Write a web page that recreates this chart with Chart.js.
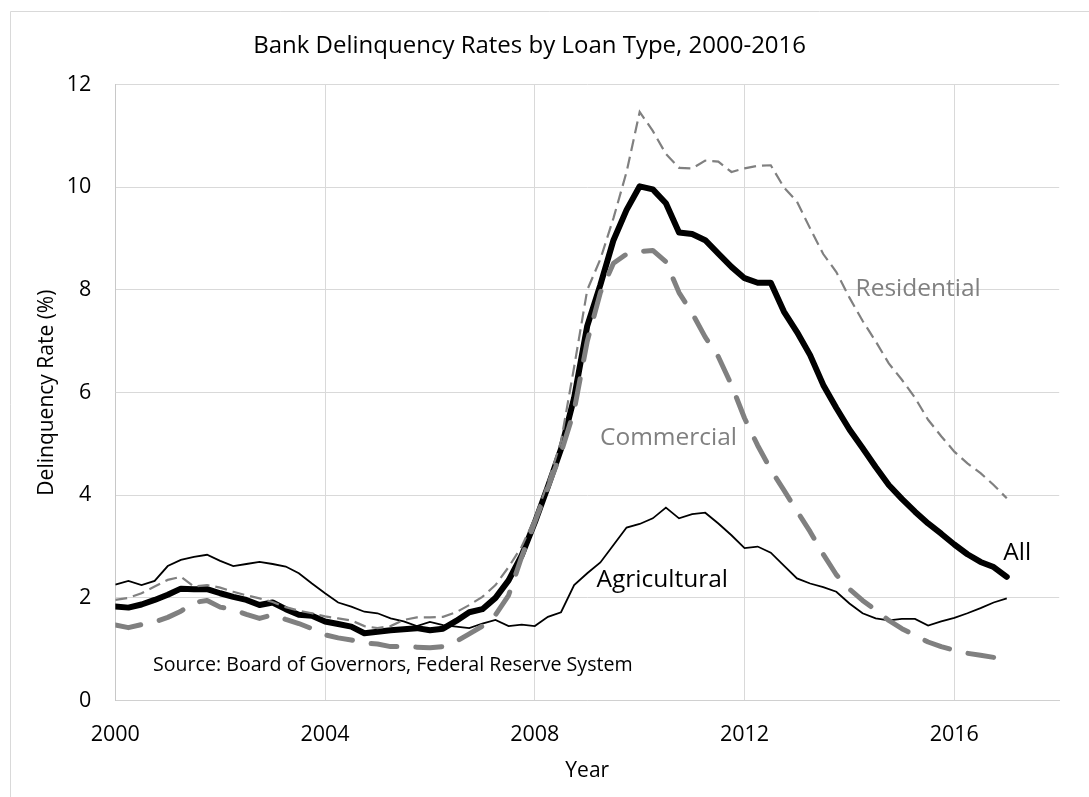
<!DOCTYPE html>
<html><head><meta charset="utf-8">
<script src="https://cdn.jsdelivr.net/npm/chart.js@4.4.1/dist/chart.umd.min.js"></script>
<style>html,body{margin:0;padding:0;background:#fff;}#wrap{width:1089px;height:797px;}</style>
</head><body><div id="wrap"><canvas id="c" width="1089" height="797"></canvas></div>
<script>
// Quarterly observations, 2000Q1 ... 2017Q1
const firstYear = 2000;
const quarterLen = 0.25;
const allLoans = [1.83,1.81,1.87,1.96,2.06,2.18,2.17,2.17,2.09,2.02,1.96,1.86,1.91,1.78,1.67,1.65,1.54,1.49,1.44,1.31,1.34,1.37,1.39,1.41,1.37,1.40,1.55,1.72,1.78,2.00,2.34,2.83,3.47,4.17,4.90,5.90,7.30,8.10,8.97,9.56,10.02,9.96,9.69,9.12,9.09,8.97,8.71,8.45,8.23,8.14,8.14,7.58,7.18,6.73,6.15,5.70,5.28,4.92,4.55,4.20,3.93,3.68,3.45,3.25,3.04,2.85,2.70,2.60,2.41];
const residential = [1.96,2.00,2.09,2.22,2.35,2.41,2.22,2.25,2.20,2.12,2.05,1.99,1.92,1.82,1.75,1.70,1.64,1.60,1.56,1.45,1.41,1.45,1.57,1.62,1.62,1.63,1.72,1.86,2.02,2.25,2.60,3.00,3.55,4.25,5.05,6.50,8.00,8.60,9.40,10.30,11.47,11.10,10.65,10.38,10.37,10.52,10.50,10.30,10.37,10.42,10.43,10.00,9.72,9.20,8.70,8.35,7.85,7.40,7.00,6.57,6.25,5.90,5.47,5.15,4.85,4.62,4.43,4.20,3.94];
const commercial = [1.47,1.42,1.48,1.53,1.62,1.74,1.91,1.95,1.82,1.77,1.68,1.60,1.67,1.58,1.50,1.40,1.28,1.22,1.18,1.12,1.10,1.05,1.05,1.04,1.03,1.05,1.15,1.30,1.45,1.67,2.05,2.80,3.48,4.15,4.83,5.65,7.00,7.95,8.52,8.70,8.75,8.77,8.55,7.95,7.55,7.08,6.70,6.15,5.50,4.97,4.50,4.10,3.69,3.29,2.85,2.45,2.17,1.95,1.76,1.56,1.40,1.27,1.14,1.05,0.98,0.92,0.88,0.84,0.79];
const agricultural = [2.26,2.33,2.25,2.33,2.62,2.74,2.80,2.84,2.72,2.62,2.66,2.70,2.66,2.61,2.48,2.28,2.09,1.91,1.83,1.73,1.70,1.60,1.54,1.45,1.53,1.47,1.44,1.41,1.50,1.57,1.45,1.48,1.45,1.63,1.72,2.25,2.48,2.69,3.03,3.37,3.44,3.55,3.76,3.55,3.63,3.66,3.45,3.22,2.97,3.00,2.88,2.63,2.38,2.28,2.21,2.12,1.89,1.70,1.60,1.56,1.59,1.59,1.46,1.54,1.61,1.70,1.80,1.91,1.99];
const xTicks = [2000,2004,2008,2012,2016];
const yTicks = [0,2,4,6,8,10,12];
const seriesLabels = ['Residential','Commercial','Agricultural','All'];
const labelAtYear = [2015.31,2010.55,2010.43,2017.2];
const labelAtRate = [8.02,5.11,2.35,2.88];
const sourceText = 'Source: Board of Governors, Federal Reserve System';
const sourceAt = [2000.72, 0.69];
const titleText = 'Bank Delinquency Rates by Loan Type, 2000-2016';

const FONT = "'Open Sans', sans-serif";
const GRAY = '#808080';
const toPoints = arr => arr.map((v, i) => ({x: firstYear + i * quarterLen, y: v}));

const decor = {
  id: 'decor',
  beforeDraw(chart) {
    const ctx = chart.ctx;
    ctx.save();
    ctx.fillStyle = '#fff';
    ctx.fillRect(0, 0, chart.width, chart.height);
    ctx.strokeStyle = '#d9d9d9';
    ctx.lineWidth = 1;
    ctx.beginPath();
    ctx.moveTo(10.5, chart.height);
    ctx.lineTo(10.5, 11.5);
    ctx.lineTo(chart.width, 11.5);
    ctx.stroke();
    ctx.restore();
  },
  afterDatasetsDraw(chart) {
    const {ctx, scales: {x, y}} = chart;
    ctx.save();
    ctx.textBaseline = 'middle';
    ctx.textAlign = 'center';
    ctx.font = '24.5px ' + FONT;
    const colors = [GRAY, GRAY, '#000', '#000'];
    seriesLabels.forEach((t, i) => {
      ctx.fillStyle = colors[i];
      ctx.fillText(t, x.getPixelForValue(labelAtYear[i]), y.getPixelForValue(labelAtRate[i]));
    });
    ctx.textAlign = 'left';
    ctx.font = '19.6px ' + FONT;
    ctx.fillStyle = '#000';
    ctx.fillText(sourceText, x.getPixelForValue(sourceAt[0]), y.getPixelForValue(sourceAt[1]));
    ctx.restore();
  }
};

function draw() {
  new Chart(document.getElementById('c'), {
    type: 'line',
    data: {
      datasets: [
        {label: 'Commercial', data: toPoints(commercial), borderColor: GRAY, borderWidth: 5, borderDash: [26, 19], borderCapStyle: 'round', borderJoinStyle: 'round'},
        {label: 'Residential', data: toPoints(residential), borderColor: GRAY, borderWidth: 2.2, borderDash: [12, 6]},
        {label: 'Agricultural', data: toPoints(agricultural), borderColor: '#000', borderWidth: 1.8},
        {label: 'All', data: toPoints(allLoans), borderColor: '#000', borderWidth: 6, borderJoinStyle: 'round', borderCapStyle: 'round'}
      ]
    },
    options: {
      responsive: false,
      devicePixelRatio: 1,
      animation: false,
      layout: {padding: {left: 0, right: 29.8, top: 0, bottom: 0}},
      elements: {point: {radius: 0}, line: {tension: 0, fill: false}},
      plugins: {
        legend: {display: false},
        tooltip: {enabled: false},
        title: {display: true, text: titleText, color: '#000', font: {family: FONT, size: 24, weight: 'normal', lineHeight: 1.2}, padding: {top: 31.5, bottom: 24.4}}
      },
      scales: {
        x: {
          type: 'linear', min: 2000, max: 2018,
          afterBuildTicks: s => { s.ticks = xTicks.map(v => ({value: v})); },
          afterFit: s => { s.height = 96.5; },
          grid: {color: '#d9d9d9', drawTicks: false, lineWidth: 1},
          border: {color: '#d0d0d0', width: 1},
          ticks: {color: '#000', padding: 21, font: {family: FONT, size: 21.5}, callback: v => String(v)},
          title: {display: true, text: 'Year', color: '#000', font: {family: FONT, size: 21, lineHeight: 1.2}, padding: {top: 0, bottom: 13}}
        },
        y: {
          min: 0, max: 12,
          afterBuildTicks: s => { s.ticks = yTicks.map(v => ({value: v})); },
          afterFit: s => { s.width = 115.3; },
          grid: {color: '#d9d9d9', drawTicks: false, lineWidth: 1},
          border: {color: '#c8c8c8', width: 1},
          ticks: {color: '#000', padding: 24, font: {family: FONT, size: 21.5}},
          title: {display: true, text: 'Delinquency Rate (%)', color: '#000', font: {family: FONT, size: 21, lineHeight: 1.2}, padding: {top: 34, bottom: 0}}
        }
      }
    },
    plugins: [decor]
  });
}
if (document.fonts && document.fonts.load) {
  Promise.all([document.fonts.load("24px 'Open Sans'")]).then(draw, draw);
} else { draw(); }
</script>
</body></html>
